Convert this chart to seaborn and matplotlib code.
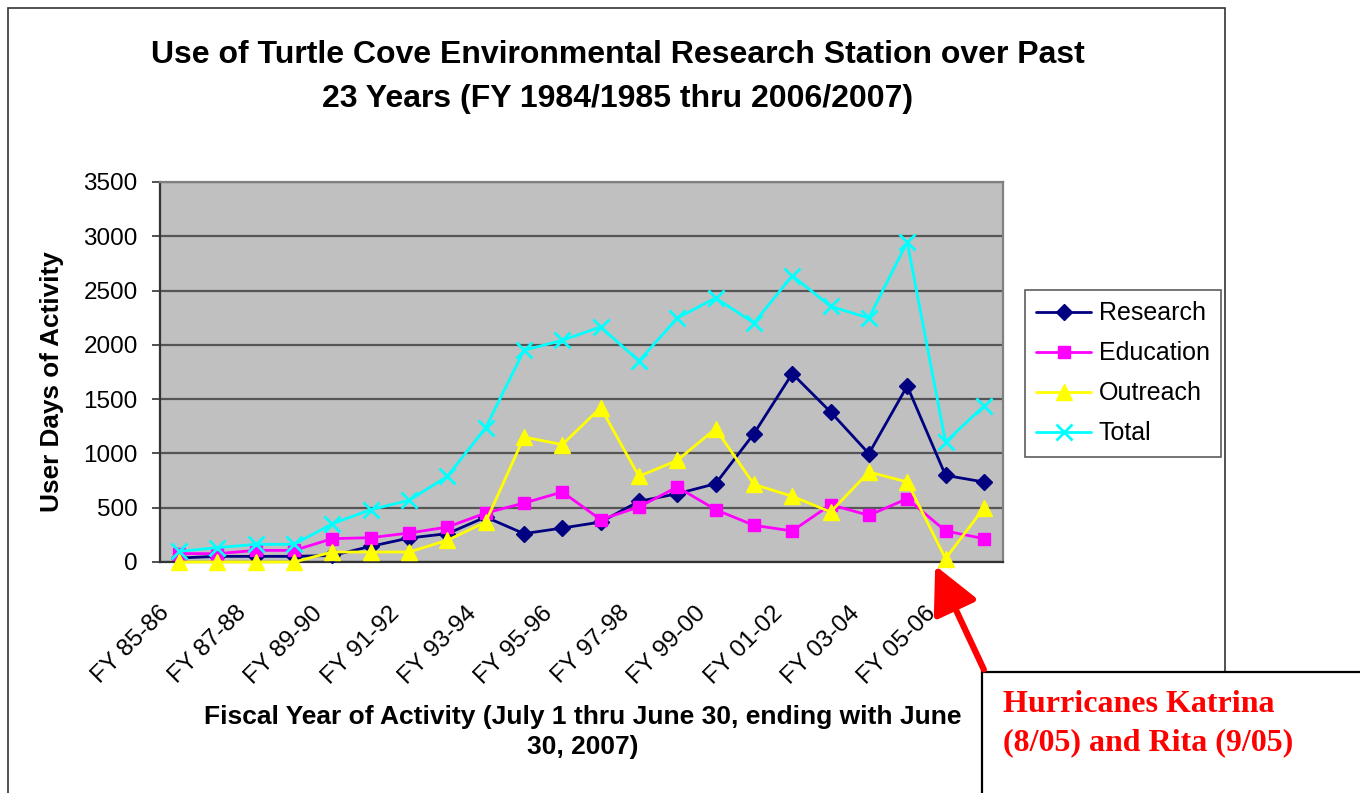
import matplotlib
matplotlib.use("Agg")
import matplotlib.pyplot as plt
import matplotlib.transforms as mtransforms
import seaborn as sns
import numpy as np
import pandas as pd
from matplotlib.patches import Rectangle, FancyArrowPatch
from matplotlib.ticker import FixedLocator

# ---------------- data ----------------
fiscal_years = ["FY 85-86", "FY 86-87", "FY 87-88", "FY 88-89", "FY 89-90", "FY 90-91",
                "FY 91-92", "FY 92-93", "FY 93-94", "FY 94-95", "FY 95-96", "FY 96-97",
                "FY 97-98", "FY 98-99", "FY 99-00", "FY 00-01", "FY 01-02", "FY 02-03",
                "FY 03-04", "FY 04-05", "FY 05-06", "FY 06-07"]
research = [37, 52, 52, 52, 60, 144, 221, 261, 414, 261, 313, 368,
            559, 629, 721, 1182, 1735, 1382, 998, 1621, 798, 737]
education = [77, 77, 107, 107, 215, 224, 267, 322, 451, 543, 645, 390,
             507, 691, 482, 338, 286, 528, 430, 583, 286, 215]
outreach = [0, 0, 0, 0, 92, 92, 92, 200, 368, 1151, 1081, 1422,
            789, 936, 1228, 715, 605, 461, 829, 737, 31, 497]
total = [98, 132, 163, 163, 353, 482, 568, 789, 1237, 1950, 2042, 2165,
         1851, 2247, 2432, 2201, 2637, 2355, 2247, 2947, 1105, 1437]
series_names = ["Research", "Education", "Outreach", "Total"]
y_ticks = [0, 500, 1000, 1500, 2000, 2500, 3000, 3500]

title_lines = ["Use of Turtle Cove Environmental Research Station over Past",
               "23 Years (FY 1984/1985 thru 2006/2007)"]
x_label = "Fiscal Year of Activity (July 1 thru June 30, ending with June\n30, 2007)"
y_label = "User Days of Activity"
note_lines = ["Hurricanes Katrina", "(8/05) and Rita (9/05)"]

# ---------------- style ----------------
sns.set_style("white")
plt.rcParams["font.family"] = ["Liberation Sans", "DejaVu Sans"]
plt.rcParams["text.color"] = "black"
plt.rcParams["axes.labelcolor"] = "black"
plt.rcParams["xtick.color"] = "black"
plt.rcParams["ytick.color"] = "black"

W, H = 1360, 793
fig = plt.figure(figsize=(W / 100, H / 100), dpi=100)

def fx(px):
    return px / W

def fy(py):
    return 1 - py / H

# outer chart frame
fig.add_artist(Rectangle((fx(8), -0.02), fx(1225) - fx(8), fy(8) + 0.02,
                         transform=fig.transFigure, fill=False,
                         edgecolor="#333333", linewidth=1.2, zorder=0))

ax = fig.add_axes([fx(160), fy(562), fx(1003) - fx(160), fy(182) - fy(562)])
ax.set_facecolor("#C0C0C0")

x_idx = np.arange(len(fiscal_years))
values = {"Research": research, "Education": education,
          "Outreach": outreach, "Total": total}
colors = {"Research": "#000080", "Education": "#FF00FF",
          "Outreach": "#FFFF00", "Total": "#00FFFF"}
markers = {"Research": "D", "Education": "s", "Outreach": "^", "Total": "x"}
msizes = {"Research": 8.5, "Education": 9, "Outreach": 11.5, "Total": 11.5}

for i, name in enumerate(series_names):
    df = pd.DataFrame({"x": x_idx, "y": values[name]})
    c = colors[name]
    sns.lineplot(data=df, x="x", y="y", ax=ax, color=c, linewidth=2.0,
                 marker=markers[name], markersize=msizes[name],
                 markeredgecolor=c, markerfacecolor=c,
                 markeredgewidth=2.0 if name == "Total" else 1.0,
                 label=name, zorder=3 + i, clip_on=False)

ax.set_xlim(-0.5, len(fiscal_years) - 0.5)
ax.set_ylim(0, 3500)
ax.set_yticks(y_ticks)
ax.set_yticklabels([str(v) for v in y_ticks])
ax.grid(axis="y", color="#555555", linewidth=1.6, zorder=1)
ax.grid(axis="x", visible=False)
ax.set_axisbelow(True)

# x ticks: labels on every other category, tick marks at category boundaries
ax.set_xticks(x_idx[::2])
ax.set_xticklabels(fiscal_years[::2])
ax.xaxis.set_minor_locator(FixedLocator(np.arange(-0.5, len(fiscal_years), 1.0)))
ax.tick_params(axis="x", which="major", length=0, pad=33, labelsize=17.5,
               labelcolor="black")
ax.tick_params(axis="x", which="minor", length=6, width=1.2, color="#333333",
               direction="out")
shift = mtransforms.ScaledTranslation(-13 / 100, -2 / 100, fig.dpi_scale_trans)
for lab in ax.get_xticklabels():
    lab.set_rotation(45)
    lab.set_ha("right")
    lab.set_va("center")
    lab.set_rotation_mode("anchor")
    lab.set_transform(lab.get_transform() + shift)
ax.tick_params(axis="y", length=6, width=1.2, color="#333333", pad=10,
               labelsize=17.5, left=True, direction="out", labelcolor="black")

for side in ["left", "bottom"]:
    ax.spines[side].set_color("#333333")
    ax.spines[side].set_linewidth(1.6)
for side in ["top", "right"]:
    ax.spines[side].set_color("#808080")
    ax.spines[side].set_linewidth(1.6)

ax.set_ylabel(y_label, fontsize=18.8, fontweight="bold", color="black")
ax.yaxis.set_label_coords((64 - 160) / 843, 0.475)
ax.set_xlabel(x_label, fontsize=19, fontweight="bold", linespacing=1.3,
              color="black")
ax.xaxis.set_label_coords((583 - 160) / 843, (562 - 705) / 380)
ax.xaxis.label.set_va("top")

leg = ax.legend(loc="upper left", bbox_to_anchor=(fx(1025), fy(290)),
                bbox_transform=fig.transFigure, fontsize=18, frameon=True,
                fancybox=False, edgecolor="#333333", handlelength=2.2,
                labelspacing=0.64, borderpad=0.45, handletextpad=0.3,
                borderaxespad=0)
leg.get_frame().set_linewidth(1.2)
for t in leg.get_texts():
    t.set_color("black")

# title (two centred lines)
fig.text(fx(618), fy(63), title_lines[0], ha="center", va="baseline",
         fontsize=23, fontweight="bold", color="black")
fig.text(fx(618), fy(107), title_lines[1], ha="center", va="baseline",
         fontsize=23, fontweight="bold", color="black")

# annotation box and arrow
fig.add_artist(Rectangle((fx(982), -0.02), 1.05 - fx(982), fy(672) + 0.02,
                         transform=fig.transFigure, facecolor="white",
                         edgecolor="black", linewidth=1.6, zorder=5))
for k, line in enumerate(note_lines):
    fig.text(fx(1003), fy(712 + 38 * k), line, ha="left", va="baseline",
             fontsize=23, fontweight="bold", color="#FF0000",
             family=["Liberation Serif", "DejaVu Serif"], zorder=6)
fig.add_artist(FancyArrowPatch((fx(985), fy(672)), (fx(934), fy(563)),
                               transform=fig.transFigure,
                               arrowstyle="-|>,head_length=1.3,head_width=0.65",
                               mutation_scale=22, color="#FF0000",
                               linewidth=4.5, zorder=6))

fig.savefig("out.png", dpi=100)
